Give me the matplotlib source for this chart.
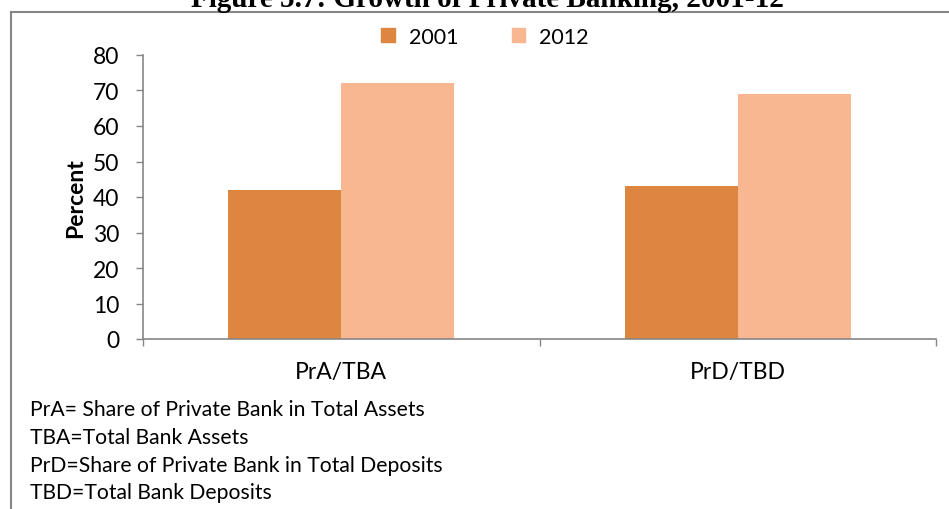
import matplotlib.pyplot as plt
import numpy as np
from matplotlib.lines import Line2D
from matplotlib.patches import Patch

categories = ['PrA/TBA', 'PrD/TBD']
years = ['2001', '2012']
values_2001 = [42, 43]
values_2012 = [72, 69]
y_ticks = [0, 10, 20, 30, 40, 50, 60, 70, 80]
notes = ['PrA= Share of Private Bank in Total Assets',
         'TBA=Total Bank Assets',
         'PrD=Share of Private Bank in Total Deposits',
         'TBD=Total Bank Deposits']
title = 'Figure 5.7: Growth of Private Banking, 2001-12'

W, H = 949, 510
colors = ['#DD8640', '#F8B691']
axis_color = '#868686'
font = ['Lato', 'DejaVu Sans']
plt.rcParams['font.family'] = font


def main():
    fig = plt.figure(figsize=(W / 100, H / 100), dpi=100)
    ax = fig.add_axes([143 / W, 170 / H, 793 / W, 284 / H])

    x = np.arange(len(categories))
    width = 0.285
    ax.bar(x - width / 2, values_2001, width, color=colors[0], label=years[0])
    ax.bar(x + width / 2, values_2012, width, color=colors[1], label=years[1])

    ax.set_xlim(-0.5, len(categories) - 0.5)
    ax.set_ylim(0, 80)
    ax.set_yticks(y_ticks)
    ax.tick_params(axis='y', labelsize=16.5, length=5, width=1, color=axis_color, pad=12)
    ax.set_xticks(x)
    ax.set_xticklabels(categories)
    ax.tick_params(axis='x', which='major', labelsize=16.5, length=0, pad=16)
    ax.set_xticks(np.arange(len(categories) + 1) - 0.5, minor=True)
    ax.tick_params(axis='x', which='minor', length=5, width=1, color=axis_color)

    for s in ['top', 'right']:
        ax.spines[s].set_visible(False)
    for s in ['left', 'bottom']:
        ax.spines[s].set_color(axis_color)
        ax.spines[s].set_linewidth(1.2)

    ax.set_ylabel('Percent', fontsize=16.5, fontweight='bold', labelpad=5)

    handles = [Patch(color=colors[0]), Patch(color=colors[1])]
    fig.legend(handles, years, loc='center', bbox_to_anchor=(485 / W, 1 - 38 / H),
               ncol=2, frameon=False, fontsize=15.5, handlelength=0.62, handleheight=0.62,
               handletextpad=0.65, columnspacing=2.5)

    for i, line in enumerate(notes):
        fig.text(30 / W, 1 - (410 + i * 27.8) / H, line, fontsize=15.2, va='center', ha='left')

    fig.text(487 / W, 1 - 7 / H, title, fontsize=21, fontweight='bold',
             family=['Liberation Serif'], ha='center', va='baseline')

    # outer frame
    fig.add_artist(Line2D([11 / W, 1], [1 - 13 / H, 1 - 13 / H], color=axis_color, lw=1.5))
    fig.add_artist(Line2D([11 / W, 11 / W], [0, 1 - 13 / H], color=axis_color, lw=1.5))

    fig.savefig('out.png', dpi=100)


if __name__ == '__main__':
    main()
